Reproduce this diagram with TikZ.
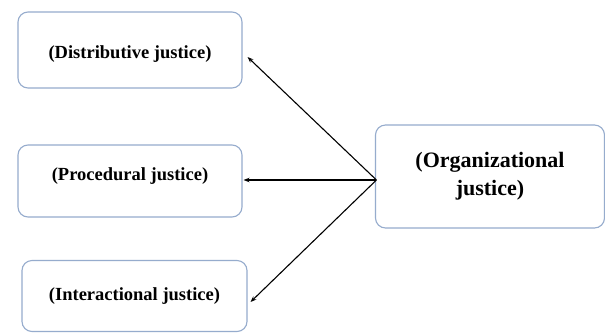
\documentclass[tikz,border=0pt]{standalone}
\usepackage{fontspec}
\setmainfont{Liberation Serif}
\usetikzlibrary{arrows.meta}
\definecolor{boxline}{RGB}{150,172,205}
% move a label up or down without changing its box
\newcommand{\shiftlabel}[2]{\raisebox{#1}[\height][\depth]{#2}}
\begin{document}
\begin{tikzpicture}[x=1pt,y=-1pt,
  jbox/.style={draw=boxline,line width=1.1pt,rounded corners=10pt,fill=white,
    font=\bfseries\fontsize{18.5}{22}\selectfont,align=center,inner sep=0pt},
  link/.style={line width=1.1pt,-{Stealth[length=6pt,width=4.5pt]}}]
\useasboundingbox (0,0) rectangle (605,333);
\fill[white] (0,0) rectangle (605,333);
% left-hand boxes
\node[jbox,minimum width=224pt,minimum height=76pt] (dist) at (130,50) {\shiftlabel{-4pt}{(Distributive justice)}};
\node[jbox,minimum width=224pt,minimum height=72pt] (proc) at (130,181) {\shiftlabel{5pt}{(Procedural justice)}};
\node[jbox,minimum width=225pt,minimum height=71pt] (inter) at (134.5,296) {(Interactional justice)};
% right-hand box
\node[jbox,minimum width=229pt,minimum height=103pt,
  font=\bfseries\fontsize{22}{28}\selectfont] (org) at (490,176.5) {(Organizational\\justice)};
% the three arrows leave one point on the left side of the right-hand box
\coordinate (src) at ([xshift=1.5pt,yshift=-3.5pt]org.west);
\draw[link] (src) -- ([xshift=5pt,yshift=-7pt]dist.east);
\draw[link] (src) -- ([xshift=1pt,yshift=1pt]proc.east);
\draw[link] (src) -- ([xshift=3pt,yshift=-6pt]inter.east);
\end{tikzpicture}
\end{document}
